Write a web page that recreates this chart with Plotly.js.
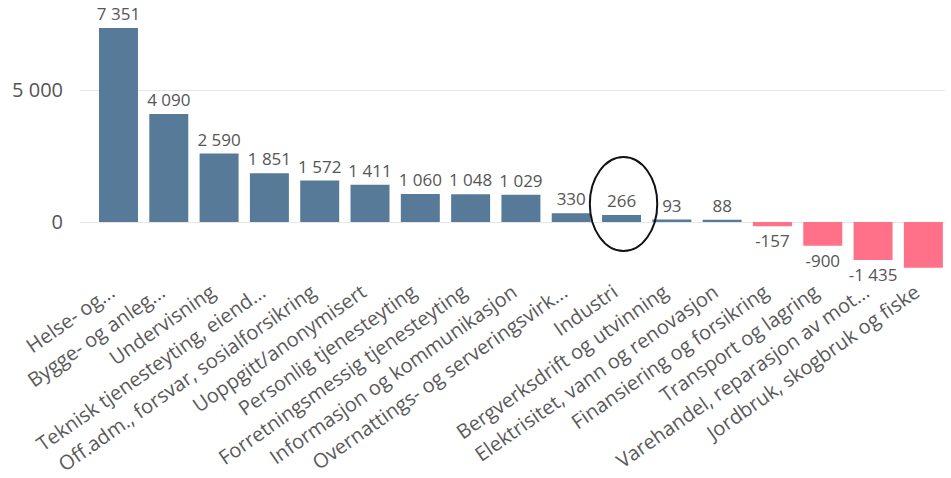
<!DOCTYPE html>
<html>
<head>
<meta charset="utf-8">
<script src="https://cdn.plot.ly/plotly-3.0.1.min.js"></script>
<style>html,body{margin:0;padding:0;background:#fff;}#chart{width:951px;height:478px;}</style>
</head>
<body>
<div id="chart"></div>
<script>
const categories = [
  "Helse- og...",
  "Bygge- og anleg...",
  "Undervisning",
  "Teknisk tjenesteyting, eiend...",
  "Off.adm., forsvar, sosialforsikring",
  "Uoppgitt/anonymisert",
  "Personlig tjenesteyting",
  "Forretningsmessig tjenesteyting",
  "Informasjon og kommunikasjon",
  "Overnattings- og serveringsvirk...",
  "Industri",
  "Bergverksdrift og utvinning",
  "Elektrisitet, vann og renovasjon",
  "Finansiering og forsikring",
  "Transport og lagring",
  "Varehandel, reparasjon av mot...",
  "Jordbruk, skogbruk og fiske"
];
const values = [7351, 4090, 2590, 1851, 1572, 1411, 1060, 1048, 1029, 330, 266, 93, 88, -157, -900, -1435, -1730];
const showLabel = [true, true, true, true, true, true, true, true, true, true, true, true, true, true, true, true, false];
const yTicks = [0, 5000];
const highlighted = "Industri";

function fmt(v) {
  const s = Math.abs(v).toString().replace(/\B(?=(\d{3})+(?!\d))/g, " ");
  return (v < 0 ? "-" : "") + s;
}

const idx = categories.indexOf(highlighted);
const trace = {
  type: "bar",
  x: categories.map((c, i) => i),
  y: values,
  text: values.map((v, i) => showLabel[i] ? fmt(v) : ""),
  textposition: "outside",
  constraintext: "none",
  cliponaxis: false,
  textfont: {family: "Open Sans", size: 17, color: "#555555"},
  marker: {color: values.map(v => v >= 0 ? "#587a99" : "#ff7189"), line: {width: 0}},
  hoverinfo: "x+y"
};

const layout = {
  width: 951, height: 478,
  margin: {l: 80, r: 6, t: 10, b: 208},
  paper_bgcolor: "#ffffff", plot_bgcolor: "#ffffff",
  showlegend: false,
  bargap: 0.225,
  font: {family: "Open Sans", color: "#555555"},
  xaxis: {
    tickmode: "array",
    tickvals: categories.map((c, i) => i),
    ticktext: categories,
    tickangle: -35,
    range: [-0.765, 16.43],
    showgrid: false, zeroline: false, showline: false,
    ticks: "", ticklen: 0,
    ticklabelshift: -8,
    ticklabelstandoff: 6,
    tickfont: {family: "Open Sans", size: 20, color: "#5a5a5a"},
    automargin: false
  },
  yaxis: {
    range: [-1818, 8030],
    tickmode: "array",
    tickvals: yTicks,
    ticktext: yTicks.map(fmt),
    showgrid: true, gridcolor: "#e6e6e6", gridwidth: 1,
    zeroline: true, zerolinecolor: "#e6e6e6", zerolinewidth: 1,
    showline: false,
    ticks: "outside", ticklen: 12, tickcolor: "rgba(0,0,0,0)",
    tickfont: {family: "Open Sans", size: 20, color: "#555555"},
    automargin: false
  },
  shapes: [{
    type: "circle", xref: "x", yref: "y",
    x0: idx - 0.63, x1: idx + 0.71,
    y0: -1098, y1: 2462,
    line: {color: "#111111", width: 2}
  }]
};

Plotly.newPlot("chart", [trace], layout, {displayModeBar: false, staticPlot: true});
</script>
</body>
</html>
